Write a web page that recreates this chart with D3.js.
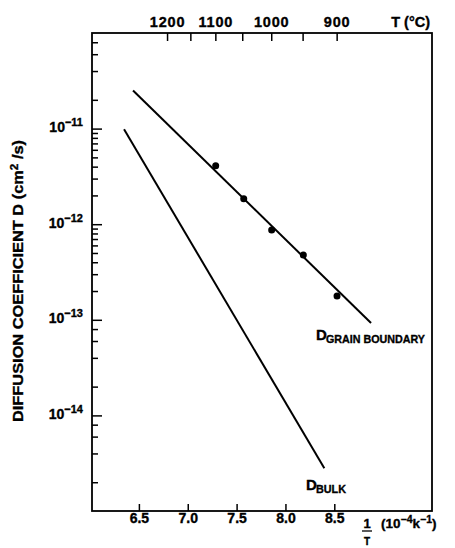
<!DOCTYPE html>
<html>
<head>
<meta charset="utf-8">
<script src="https://cdn.jsdelivr.net/npm/d3@7"></script>
<style>
  html, body { margin: 0; padding: 0; background: #fff; }
  svg { display: block; }
  text { font-family: "Liberation Sans", Arial, sans-serif; font-weight: bold; fill: #000; stroke: #000; stroke-width: 0.35px; }
</style>
</head>
<body>
<svg id="chart" width="455" height="548"></svg>
<script>
// ---- data ----
const bottomTicks = [6.5, 7.0, 7.5, 8.0, 8.5];
const bottomTickLabels = ["6.5", "7.0", "7.5", "8.0", "8.5"];
const topTempTicks = [1200, 1150, 1100, 1050, 1000, 950, 900];
const topTempLabels = [1200, 1100, 1000, 900];
const yMajorTicks = [1e-11, 1e-12, 1e-13, 1e-14];
const yMajorExponents = ["\u221211", "\u221212", "\u221213", "\u221214"];
const yMinorTicks = [
  8e-11, 6e-11, 4e-11, 2e-11,
  9e-12, 8e-12, 7e-12, 6e-12, 5e-12, 4e-12, 3e-12, 2e-12,
  9e-13, 8e-13, 7e-13, 6e-13, 5e-13, 4e-13, 3e-13, 2e-13,
  8e-14, 6e-14, 4e-14, 2e-14,
  8e-15, 6e-15, 4e-15, 2e-15
];
const gbLineX = [6.44, 8.876];
const gbLineY = [2.50e-11, 9.26e-14];
const bulkLineX = [6.348, 8.398];
const bulkLineY = [9.84e-12, 2.8e-15];
const gbPointsX = [7.286, 7.573, 7.859, 8.183, 8.528];
const gbPointsY = [4.09e-12, 1.85e-12, 8.69e-13, 4.76e-13, 1.77e-13];

// ---- layout ----
const L = 92, R = 432, T = 33, B = 511;
const svg = d3.select("#chart");

const x = d3.scaleLinear().domain([6.02, 9.5]).range([L, R]);
const y = d3.scaleLog().domain([1e-10, 1e-15]).range([T, B]);

// frame
svg.append("rect").attr("x", L).attr("y", T).attr("width", R - L).attr("height", B - T)
  .attr("fill", "none").attr("stroke", "#000").attr("stroke-width", 1.8);

// bottom axis
const bAx = svg.append("g").attr("transform", `translate(0,${B})`)
  .call(d3.axisBottom(x).tickValues(bottomTicks)
    .tickFormat((d, i) => bottomTickLabels[i]).tickSize(-7).tickPadding(2));
bAx.select(".domain").remove();
bAx.selectAll("line").attr("stroke-width", 1.5);
bAx.selectAll("text").style("font-size", "14px").attr("font-family", null);

// top axis (temperature)
const topVals = topTempTicks.map(t => 1e4 / (t + 273.15));
const tAx = svg.append("g").attr("transform", `translate(0,${T})`)
  .call(d3.axisTop(x).tickValues(topVals)
    .tickFormat((d, i) => topTempLabels.includes(topTempTicks[i]) ? String(topTempTicks[i]) : "")
    .tickSize(-8).tickPadding(6));
tAx.select(".domain").remove();
tAx.selectAll("line").attr("stroke-width", 1.5);
tAx.selectAll("text").style("font-size", "14.5px").style("letter-spacing", "0.8px");

// left axis minor ticks
const mAx = svg.append("g").attr("transform", `translate(${L},0)`)
  .call(d3.axisLeft(y).tickValues(yMinorTicks).tickFormat(() => "").tickSize(-6));
mAx.select(".domain").remove();
mAx.selectAll("line").attr("stroke-width", 1.5);

// left axis major ticks
const yAx = svg.append("g").attr("transform", `translate(${L},0)`)
  .call(d3.axisLeft(y).tickValues(yMajorTicks).tickFormat(() => "").tickSize(-10).tickPadding(9));
yAx.select(".domain").remove();
yAx.selectAll("line").attr("stroke-width", 1.5);
yAx.selectAll(".tick text").each(function(d, i) {
  const t = d3.select(this).text(null).attr("dy", "0.3em");
  t.append("tspan").style("font-size", "14px").text("10");
  t.append("tspan").style("font-size", "11px").attr("dy", "-6").text(yMajorExponents[i]);
});

// lines
const line = d3.line().x(d => x(d[0])).y(d => y(d[1]));
svg.append("path").datum(d3.zip(gbLineX, gbLineY)).attr("d", line)
  .attr("fill", "none").attr("stroke", "#000").attr("stroke-width", 2);
svg.append("path").datum(d3.zip(bulkLineX, bulkLineY)).attr("d", line)
  .attr("fill", "none").attr("stroke", "#000").attr("stroke-width", 2);

// points
svg.append("g").selectAll("circle").data(d3.zip(gbPointsX, gbPointsY)).join("circle")
  .attr("cx", d => x(d[0])).attr("cy", d => y(d[1])).attr("r", 3.5).attr("fill", "#000");

// y-axis title
const yt = svg.append("text").attr("transform", "translate(23,281) rotate(-90)")
  .attr("text-anchor", "middle").style("font-size", "14px")
  .attr("textLength", 282).attr("lengthAdjust", "spacingAndGlyphs");
yt.append("tspan").text("DIFFUSION COEFFICIENT D (cm");
yt.append("tspan").style("font-size", "10px").attr("dy", "-5").text("2");
yt.append("tspan").attr("dy", "5").text(" /s)");

// top-right label
svg.append("text").attr("x", 430).attr("y", 27).attr("text-anchor", "end")
  .style("font-size", "14.5px").text("T (\u00B0C)");

// bottom-right label: 1/T (10^-4 k^-1)
svg.append("text").attr("x", 367).attr("y", 528).attr("text-anchor", "middle")
  .style("font-size", "13px").text("1");
svg.append("line").attr("x1", 362).attr("x2", 372).attr("y1", 531).attr("y2", 531)
  .attr("stroke", "#000").attr("stroke-width", 1.3);
svg.append("text").attr("x", 367).attr("y", 545).attr("text-anchor", "middle")
  .style("font-size", "10px").text("T");
const ul = svg.append("text").attr("x", 381).attr("y", 528).style("font-size", "13.5px");
ul.append("tspan").text("(10");
ul.append("tspan").style("font-size", "10.5px").attr("dy", "-5").text("\u22124");
ul.append("tspan").attr("dy", "5").text("k");
ul.append("tspan").style("font-size", "10.5px").attr("dy", "-5").text("\u22121");
ul.append("tspan").attr("dy", "5").text(")");

// curve labels
svg.append("text").attr("x", 316).attr("y", 340).style("font-size", "15px").text("D");
svg.append("text").attr("x", 326).attr("y", 343).style("font-size", "11px")
  .attr("textLength", 99).attr("lengthAdjust", "spacingAndGlyphs").text("GRAIN BOUNDARY");
svg.append("text").attr("x", 306).attr("y", 490).style("font-size", "15px").text("D");
svg.append("text").attr("x", 316).attr("y", 493).style("font-size", "11px")
  .attr("textLength", 30).attr("lengthAdjust", "spacingAndGlyphs").text("BULK");
</script>
</body>
</html>
